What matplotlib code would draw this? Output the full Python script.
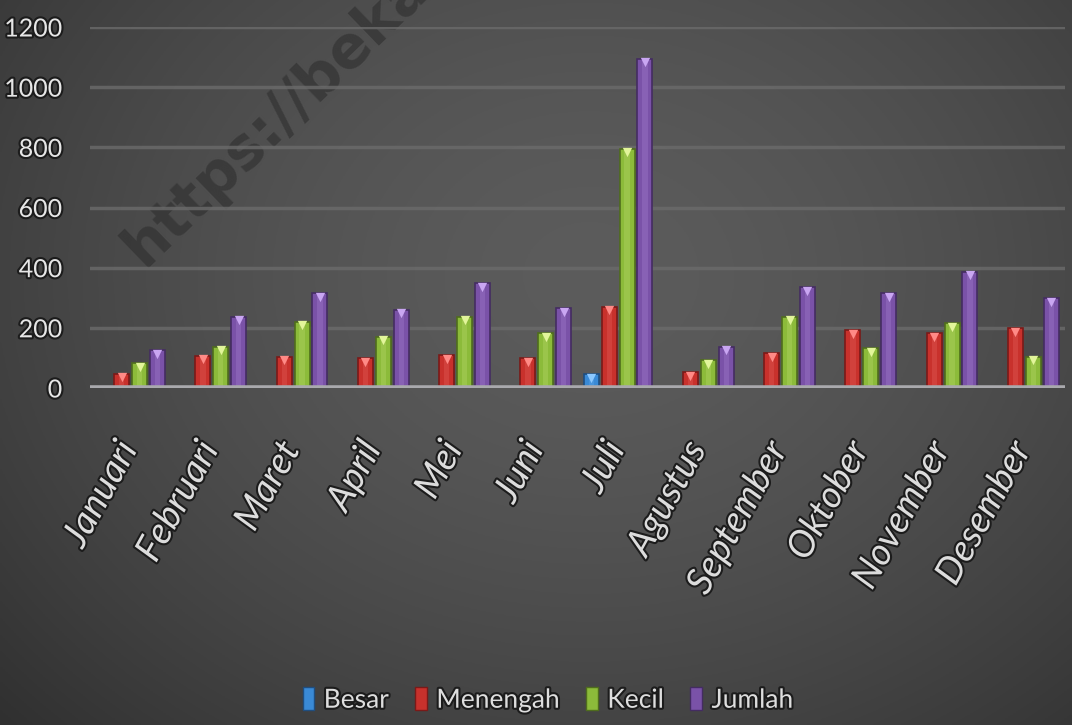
import numpy as np
import matplotlib
matplotlib.use("Agg")
import matplotlib.pyplot as plt
import matplotlib.patheffects as pe
from matplotlib.patches import Patch

bulan = ["Januari", "Februari", "Maret", "April", "Mei", "Juni", "Juli",
         "Agustus", "September", "Oktober", "November", "Desember"]
seri = ["Besar", "Menengah", "Kecil", "Jumlah"]
besar = [3, 3, 2, 3, 3, 2, 45, 2, 3, 3, 3, 3]
menengah = [48, 108, 104, 99, 110, 99, 270, 53, 115, 193, 182, 199]
kecil = [82, 137, 220, 170, 237, 182, 796, 93, 237, 133, 216, 104]
jumlah = [126, 237, 315, 260, 348, 265, 1095, 137, 336, 315, 386, 299]
yticks = [0, 200, 400, 600, 800, 1000, 1200]

warna = ["#3a8ad6", "#c8312c", "#8cbb3a", "#7a52a8"]
terang = ["#8cc8ff", "#ff8a86", "#e2f59a", "#c9a6f2"]
gelap = ["#1f4e80", "#7a1a18", "#4f6d1d", "#442c62"]

plt.rcParams["font.family"] = ["Lato", "DejaVu Sans"]

fig = plt.figure(figsize=(10.72, 7.25), dpi=100)

# background: radial gradient, lighter around the middle of the plot
bg = fig.add_axes([0, 0, 1, 1], zorder=-10)
yy, xx = np.mgrid[0:1:300j, 0:1:400j]
r = np.sqrt(((xx - 0.55) / 0.75) ** 2 + ((yy - 0.62) / 0.9) ** 2)
g = 0.36 - 0.17 * r ** 1.6
bg.imshow(np.dstack([g, g, g]).clip(0, 1), extent=[0, 1, 0, 1],
          aspect="auto", origin="lower")
bg.set_axis_off()

# faint watermark
bg.text(0.105, 0.635, "https://bekas", rotation=44, color="#2e2e2e",
        fontsize=42, fontweight="bold", family="DejaVu Sans",
        ha="left", va="baseline", alpha=0.6, clip_on=True)

ax = fig.add_axes([90 / 1072, 1 - 388 / 725, 975 / 1072, 361 / 725])
ax.set_facecolor("none")
ax.set_xlim(-0.5, len(bulan) - 0.5)
ax.set_ylim(0, 1200)

x = np.arange(len(bulan))
lebar = 0.185
jarak = 0.22
for i, data in enumerate([besar, menengah, kecil, jumlah]):
    pos = x + (i - 1.5) * jarak
    ax.bar(pos, data, width=lebar, color=warna[i], edgecolor=gelap[i],
           linewidth=1.2, zorder=3)
    ax.bar(pos, data, width=lebar * 0.35, color=terang[i], alpha=0.18,
           linewidth=0, zorder=4)
    tinggi = np.array(data, dtype=float)
    ok = tinggi > 15
    ax.scatter(pos[ok], tinggi[ok] - 12, marker="v", s=45, color=terang[i],
               linewidths=0, zorder=5)

for t in yticks[1:]:
    ax.axhline(t, color="#6b6b6b", linewidth=2.5, alpha=0.8, zorder=1)
ax.axhline(0, color="#a9a9ad", linewidth=4, zorder=6)

for s in ax.spines.values():
    s.set_visible(False)
ax.tick_params(length=0)

bayang = [pe.withStroke(linewidth=3, foreground="#1c1c1c")]
ax.set_yticks(yticks)
ax.set_yticklabels([str(v) for v in yticks], fontsize=18, color="#e6e6e6",
                   path_effects=bayang)
ax.tick_params(axis="y", pad=20)

ax.set_xticks(x - 0.22)
ax.set_xticklabels(bulan, rotation=61, ha="right", va="top",
                   rotation_mode="anchor", fontsize=27, style="italic",
                   color="#dcdcdc", path_effects=bayang)
ax.tick_params(axis="x", pad=34)

handles = [Patch(facecolor=warna[i], edgecolor=gelap[i]) for i in range(4)]
leg = fig.legend(handles, seri, loc="center", bbox_to_anchor=(548 / 1072, 1 - 700 / 725),
                 ncol=4, frameon=False, fontsize=19, handlelength=0.45,
                 handleheight=0.95, handletextpad=0.35, columnspacing=1.0)
for t in leg.get_texts():
    t.set_color("#dedede")
    t.set_path_effects(bayang)

fig.savefig("out.png", dpi=100)
